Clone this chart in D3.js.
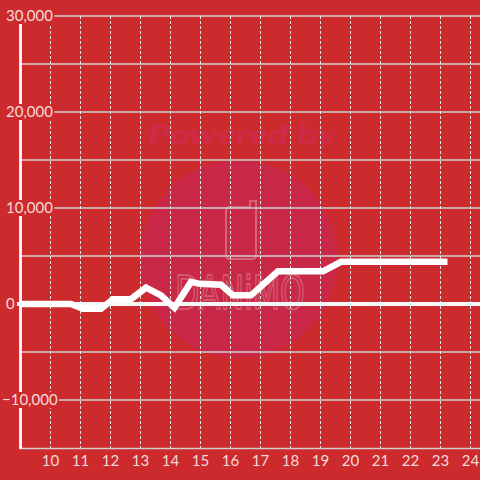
<!DOCTYPE html>
<html>
<head>
<meta charset="utf-8">
<script src="https://cdn.jsdelivr.net/npm/d3@7"></script>
<style>
html,body{margin:0;padding:0;background:#cd2a2e;}
svg{display:block;}
</style>
</head>
<body>
<svg id="chart" width="480" height="480"></svg>
<script>
// ---- data ----
const hours  = [9.0, 10.7, 11.1, 11.7, 12.1, 12.7, 13.2, 13.7, 14.15, 14.7, 15.0, 15.7, 16.1, 16.7, 17.6, 19.1, 19.7, 23.25];
const values = [0, 0, -500, -500, 500, 500, 1700, 900, -400, 2300, 2100, 2000, 900, 900, 3400, 3400, 4400, 4400];
const xTicks = [10, 11, 12, 13, 14, 15, 16, 17, 18, 19, 20, 21, 22, 23, 24];
const yTicks = [-10000, 0, 10000, 20000, 30000];
const yGrid  = [-10000, -5000, 0, 5000, 10000, 15000, 20000, 25000, 30000];

const W = 480, H = 480;
const bg = "#cd2a2e";
const textCol = "#f4dada";
const gridCol = "#cfcfcf";

const svg = d3.select("#chart");
const x = d3.scaleLinear().domain([9, 24.3333]).range([20, 480]);
const y = d3.scaleLinear().domain([-15000, 30000]).range([448, 16]);

svg.append("rect").attr("width", W).attr("height", H).attr("fill", bg);

// watermark
const wm = svg.append("g");
wm.append("circle").attr("cx", 239).attr("cy", 259).attr("r", 99).attr("fill", "#c92846");
wm.append("text").attr("x", 148).attr("y", 144)
  .attr("font-family", "Lato, 'Open Sans', sans-serif").attr("font-weight", 900).attr("font-style", "italic")
  .attr("font-size", 27).attr("textLength", 188).attr("lengthAdjust", "spacingAndGlyphs")
  .attr("fill", "#cf2a47").text("Powered by");
wm.append("path")
  .attr("d", "M230,207 L250,207 L250,201 L256,201 L256,255 Q256,259 252,259 L230,259 Q226,259 226,255 L226,211 Q226,207 230,207 Z")
  .attr("fill", "none").attr("stroke", "rgba(255,255,255,0.28)").attr("stroke-width", 2);
wm.append("text").attr("x", 175).attr("y", 309)
  .attr("font-family", "'DejaVu Sans', sans-serif").attr("font-size", 46)
  .attr("textLength", 130).attr("lengthAdjust", "spacingAndGlyphs")
  .attr("fill", "none").attr("stroke", "rgba(255,255,255,0.22)").attr("stroke-width", 2)
  .text("DANiMO");

// horizontal grid
svg.append("g").selectAll("line").data(yGrid).join("line")
  .attr("x1", 20).attr("x2", 480)
  .attr("y1", d => y(d)).attr("y2", d => y(d))
  .attr("stroke", gridCol).attr("stroke-width", 1.5);

// vertical dashed grid
svg.append("g").selectAll("line").data(xTicks).join("line")
  .attr("x1", d => x(d) + 0.5).attr("x2", d => x(d) + 0.5)
  .attr("y1", 16).attr("y2", 448)
  .attr("stroke", "#e6e6e6").attr("stroke-width", 1).attr("stroke-dasharray", "3,2");

// bottom axis line
svg.append("line").attr("x1", 20).attr("x2", 480).attr("y1", 448.5).attr("y2", 448.5)
  .attr("stroke", gridCol).attr("stroke-width", 1.5);

// y axis line
svg.append("line").attr("x1", 20.5).attr("x2", 20.5).attr("y1", 16).attr("y2", 449)
  .attr("stroke", "#f2f2f2").attr("stroke-width", 3);

// zero line
svg.append("line").attr("x1", 17).attr("x2", 480).attr("y1", y(0)).attr("y2", y(0))
  .attr("stroke", "#f7f7f7").attr("stroke-width", 4);

// data line
const pts = hours.map((h, i) => [h, values[i]]);
svg.append("path").datum(pts)
  .attr("d", d3.line().x(d => x(d[0])).y(d => y(d[1])))
  .attr("fill", "none").attr("stroke", "#ffffff").attr("stroke-width", 6.5)
  .attr("stroke-linejoin", "miter").attr("stroke-linecap", "butt");

// y labels with background boxes
const fmt = d3.format(",");
const yl = svg.append("g");
yTicks.forEach(v => {
  const g = yl.append("g");
  const t = g.append("text")
    .attr("x", v < 0 ? 2 : 6).attr("y", y(v)).attr("dy", "0.36em")
    .attr("font-family", "Lato, sans-serif").attr("font-size", 15)
    .attr("fill", textCol).text(v === 0 ? "0" : fmt(v));
  const b = t.node().getBBox();
  g.insert("rect", "text").attr("x", b.x - 1).attr("y", y(v) - 8)
    .attr("width", b.width + 2).attr("height", 16).attr("fill", bg);
});

// x labels
svg.append("g").selectAll("text").data(xTicks).join("text")
  .attr("x", d => x(d) + 0.5).attr("y", 466)
  .attr("text-anchor", "middle")
  .attr("font-family", "Lato, sans-serif").attr("font-size", 15)
  .attr("fill", textCol).text(d => d);
</script>
</body>
</html>
